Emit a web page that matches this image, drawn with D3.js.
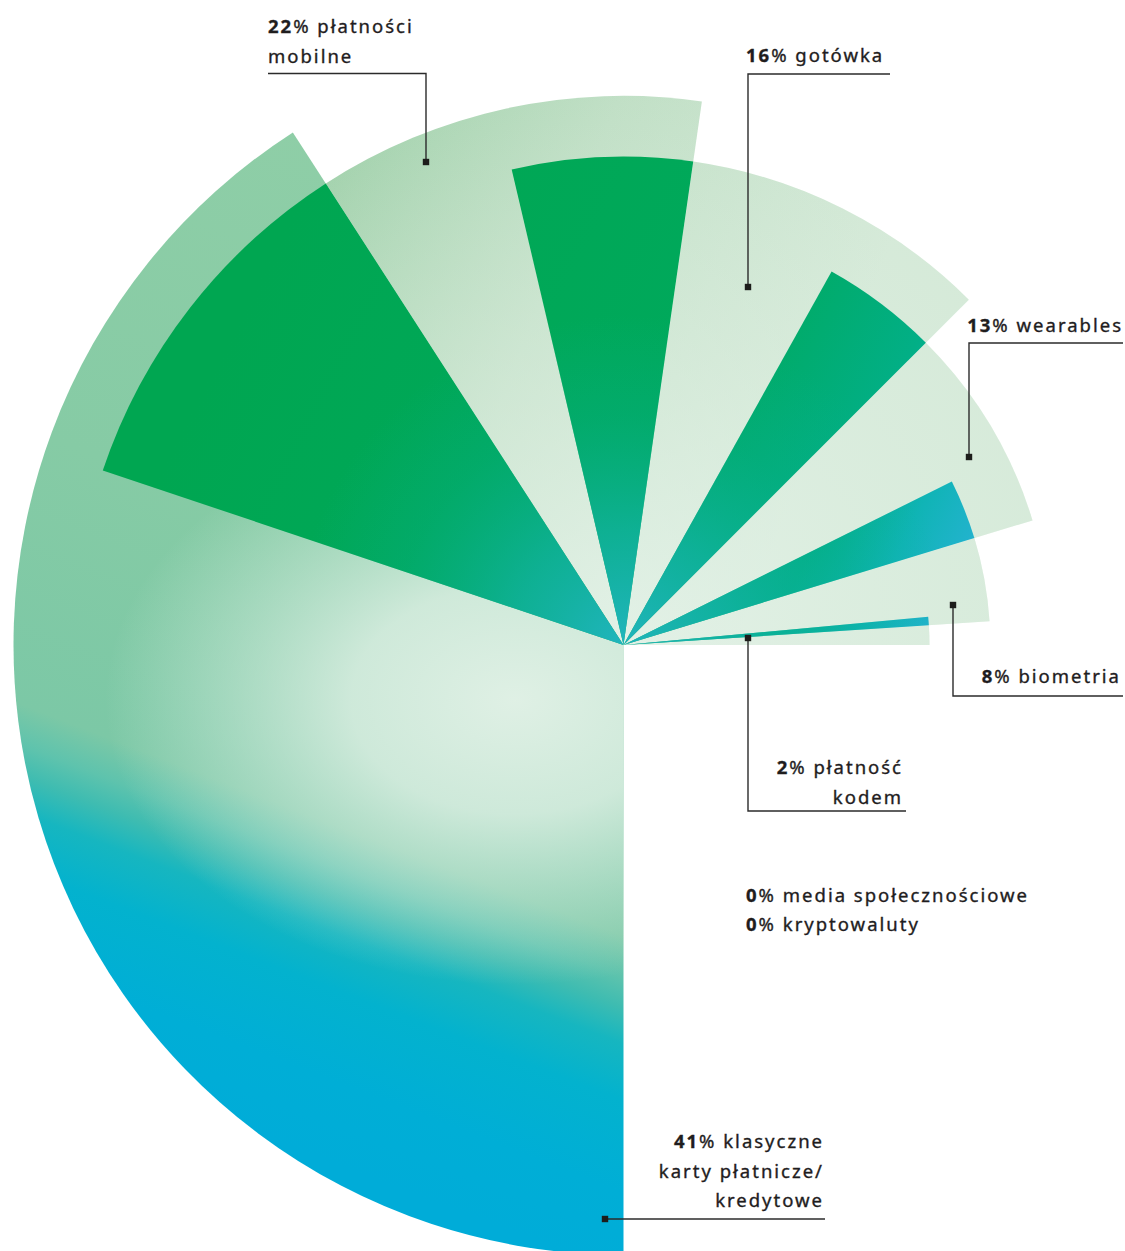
<!DOCTYPE html>
<html lang="pl">
<head>
<meta charset="utf-8">
<title>Metody płatności</title>
<script src="https://cdn.jsdelivr.net/npm/d3@7"></script>
<style>
  html, body { margin: 0; padding: 0; background: #ffffff; }
  svg { display: block; }
  text { font-family: "Noto Sans", "Open Sans", sans-serif; fill: #1f1d1e; }
</style>
</head>
<body>
<svg id="chart" width="1125" height="1251"></svg>
<script>
// Payment methods and their shares (%)
const categories = [
  ["klasyczne", "karty płatnicze/", "kredytowe"],
  ["płatności", "mobilne"],
  ["gotówka"],
  ["wearables"],
  ["biometria"],
  ["płatność", "kodem"]
];
const shares = [41, 22, 16, 13, 8, 2];
// saturated leading part of each sector, in percentage points
const highlight = [0, 14.6, 8.1, 6.0, 3.6, 0.6];
// methods nobody chose
const zeroCategories = ["media społecznościowe", "kryptowaluty"];
const zeroShares = [0, 0];

// ---- layout ----
const width = 1125, height = 1251;
const cx = 623.5, cy = 645;
const fontSize = 18.5, tracking = 2.0, lineHeight = 29.5;

const svg = d3.select("#chart");
const defs = svg.append("defs");

const total = d3.sum(shares);
const cum = [0, ...d3.cumsum(shares)];
const n = shares.length;

// sweep from 6 o'clock clockwise round to 3 o'clock
const angle = d3.scaleLinear().domain([0, total]).range([Math.PI, 2.5 * Math.PI]);
// each following sector steps inwards
const radius = d3.scaleLinear().domain([0, n - 1]).range([610, 306]);

// ---- gradients (coordinates relative to the chart centre) ----
function addStops(g, stops) {
  stops.forEach(([o, c, a]) => g.append("stop").attr("offset", o)
    .attr("stop-color", c).attr("stop-opacity", a == null ? 1 : a));
}
function linear(id, x1, y1, x2, y2, stops) {
  const g = defs.append("linearGradient").attr("id", id)
    .attr("gradientUnits", "userSpaceOnUse")
    .attr("x1", x1 - cx).attr("y1", y1 - cy).attr("x2", x2 - cx).attr("y2", y2 - cy);
  addStops(g, stops);
}
function radial(id, x, y, rx, ry, stops) {
  const gx = x - cx, gy = y - cy;
  const g = defs.append("radialGradient").attr("id", id)
    .attr("gradientUnits", "userSpaceOnUse")
    .attr("cx", gx).attr("cy", gy).attr("r", rx)
    .attr("gradientTransform", `translate(${gx},${gy}) scale(1,${ry / rx}) translate(${-gx},${-gy})`);
  addStops(g, stops);
}

// the large sector: green on top, washing into cyan at the bottom
linear("bigFill", 660, 260, 315, 1157, [
  [0, "#8fcea7"], [0.4, "#86cba5"], [0.67, "#7cc8a6"], [0.71, "#5ec3ad"],
  [0.74, "#3ebcb1"], [0.775, "#16b6c0"], [0.83, "#03b2ce"], [0.92, "#00aed6"], [1, "#00acd8"]
]);
radial("bigGlow", 515, 700, 410, 285, [
  [0, "#e4f2e8", 0.95], [0.4, "#dff0e5", 0.82], [0.7, "#d8eee2", 0.42], [1, "#d8eee2", 0]
]);
linear("paleFill", 330, 150, 850, 350, [
  [0, "#a3d2ad"], [0.45, "#c0dfc5"], [1, "#d4e9d7"]
]);
radial("paleGlow", cx, cy, 560, 560, [
  [0, "#e6f3ea", 0.85], [0.6, "#e2f1e6", 0.35], [1, "#e2f1e6", 0]
]);
linear("deepFill", 300, 200, 1000, 560, [
  [0, "#00a651"], [0.55, "#00a95c"], [0.78, "#02af86"], [0.88, "#10b4b6"], [1, "#2cb2da"]
]);
radial("deepCore", cx, cy, 330, 330, [
  [0, "#22b5c2", 0.95], [0.35, "#14b3aa", 0.7], [0.7, "#08b090", 0.3], [1, "#08b090", 0]
]);

// ---- sectors ----
const sectors = shares.map((v, k) => {
  const a0 = angle(cum[k]);
  const a1 = angle(cum[k] + highlight[k]);
  const a2 = k < n - 1 ? angle(cum[k + 1] + highlight[k + 1]) : angle(total);
  return { k, value: v, r: radius(k), deep: [a0, a1], pale: [a1, a2] };
});

const arc = d3.arc().innerRadius(0);
const plot = svg.append("g").attr("transform", `translate(${cx},${cy})`);

// pale body of every sector
const pale = plot.append("g").attr("class", "pale");
sectors.forEach(s => {
  const d = arc({ outerRadius: s.r, startAngle: s.k === 0 ? s.deep[0] : s.pale[0], endAngle: s.pale[1] });
  pale.append("path").attr("d", d).attr("fill", s.k === 0 ? "url(#bigFill)" : "url(#paleFill)");
  pale.append("path").attr("d", d).attr("fill", s.k === 0 ? "url(#bigGlow)" : "url(#paleGlow)");
});

// saturated leading wedge of every sector
const deepData = sectors.filter(s => s.deep[1] > s.deep[0]);
const deepArc = s => arc({ outerRadius: s.r, startAngle: s.deep[0], endAngle: s.deep[1] });
const deep = plot.append("g").attr("class", "deep");
deep.selectAll("path.base").data(deepData).join("path")
  .attr("class", "base").attr("d", deepArc).attr("fill", "url(#deepFill)");
deep.selectAll("path.core").data(deepData).join("path")
  .attr("class", "core").attr("d", deepArc).attr("fill", "url(#deepCore)");

// ---- labels with leader lines ----
const labelLayout = [
  { x: 822, y: 1148, anchor: "end",   lead: [[825, 1219], [605, 1219]] },
  { x: 268, y: 33.3, anchor: "start", lead: [[268, 73.5], [426, 73.5], [426, 162]] },
  { x: 746, y: 62.3, anchor: "start", lead: [[890, 74], [748, 74], [748, 287]] },
  { x: 1121, y: 331.7, anchor: "end", lead: [[1123, 343], [969, 343], [969, 457]] },
  { x: 1119, y: 683.3, anchor: "end", lead: [[1123, 696], [953, 696], [953, 605]] },
  { x: 901, y: 774.3, anchor: "end",  lead: [[906, 811], [748, 811], [748, 638]] }
];
const zeroLayout = { x: 746, y: 901.7 };

const labels = svg.append("g").attr("class", "labels");
const line = d3.line();

function writeLabel(g, x, y, anchor, value, lines) {
  const tx = anchor === "end" ? x + tracking : x;
  const t = g.append("text")
    .attr("x", tx).attr("y", y)
    .attr("text-anchor", anchor)
    .attr("font-size", fontSize)
    .attr("stroke", "#1f1d1e").attr("stroke-width", 0.35)
    .style("letter-spacing", tracking + "px");
  lines.forEach((txt, i) => {
    if (i === 0) {
      t.append("tspan").attr("x", tx).attr("dy", 0)
        .attr("font-weight", 700).text(value);
      t.append("tspan").attr("font-weight", 400).text("% " + txt);
    } else {
      t.append("tspan").attr("x", tx)
        .attr("dy", lineHeight).attr("font-weight", 400).text(txt);
    }
  });
}

sectors.forEach((s, k) => {
  const L = labelLayout[k];
  const g = labels.append("g");
  writeLabel(g, L.x, L.y, L.anchor, s.value, categories[k]);
  g.append("path").attr("d", line(L.lead))
    .attr("fill", "none").attr("stroke", "#2b2b2b").attr("stroke-width", 1.4);
  const [mx, my] = L.lead[L.lead.length - 1];
  g.append("rect").attr("x", mx - 3.2).attr("y", my - 3.2)
    .attr("width", 6.4).attr("height", 6.4).attr("fill", "#1d1d1b");
});

zeroCategories.forEach((c, i) => {
  writeLabel(labels.append("g"), zeroLayout.x, zeroLayout.y + i * lineHeight * 0.98, "start", zeroShares[i], [c]);
});
</script>
</body>
</html>
